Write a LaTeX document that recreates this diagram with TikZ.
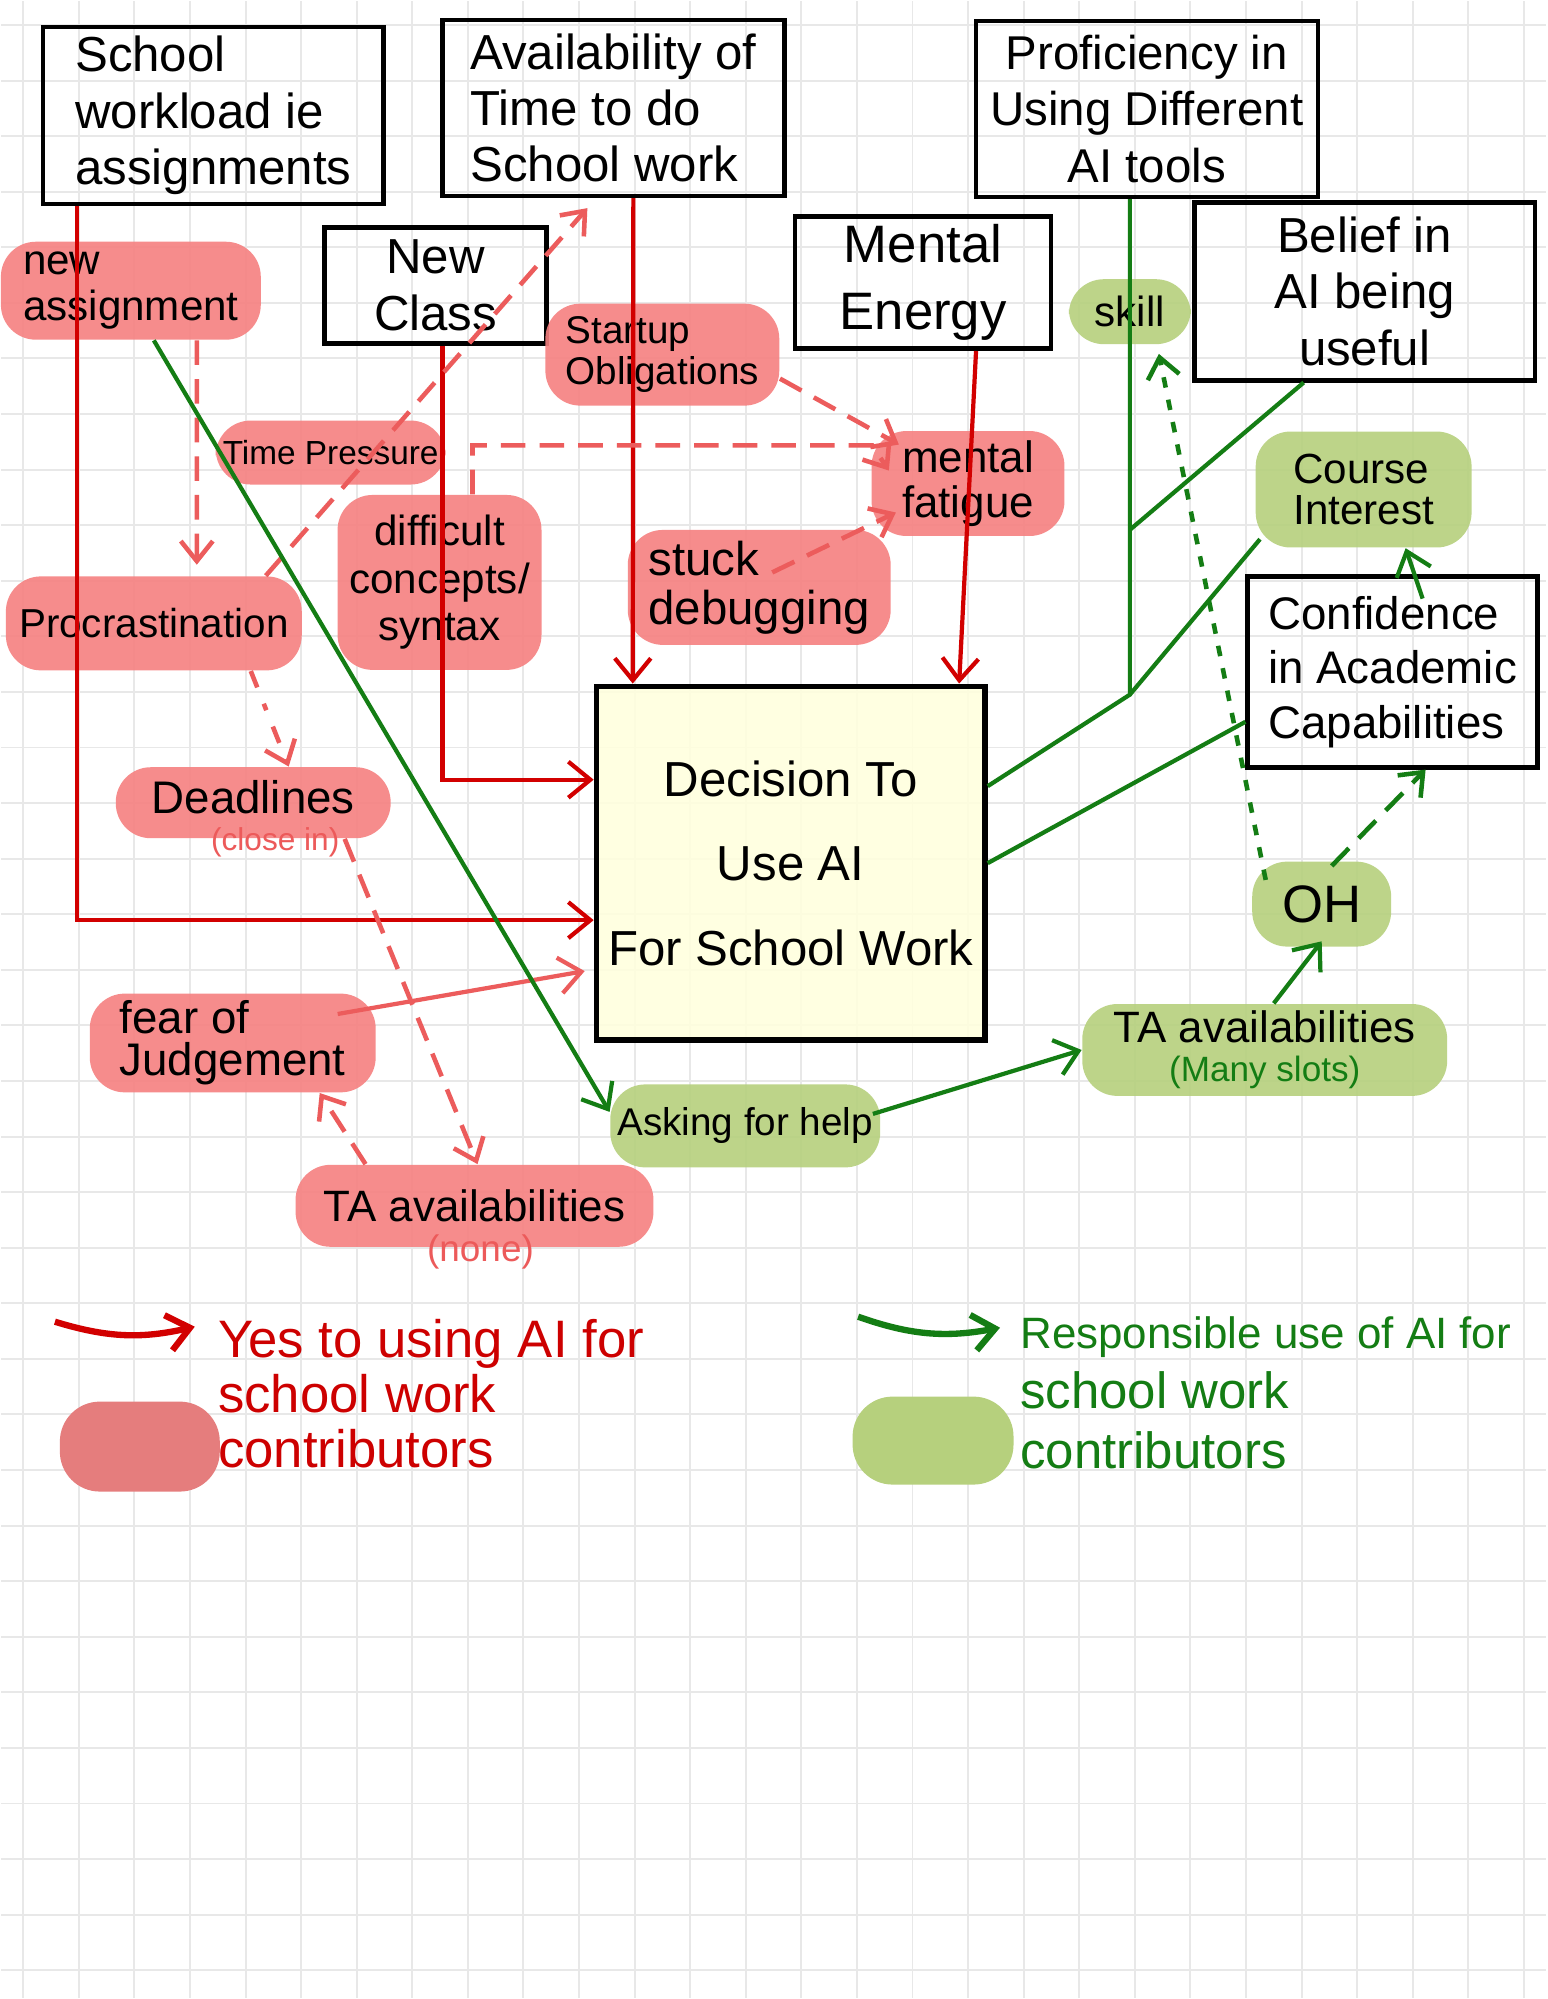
\documentclass[tikz,border=0pt]{standalone}
\usepackage{fontspec}
\setmainfont{Liberation Sans}
\usetikzlibrary{arrows.meta}
\definecolor{blobred}{RGB}{246,128,128}
\definecolor{blobgreen}{RGB}{182,208,125}
\definecolor{legendred}{RGB}{229,125,125}
\definecolor{linered}{RGB}{210,0,0}
\definecolor{dashred}{RGB}{236,92,92}
\definecolor{subred}{RGB}{236,90,90}
\definecolor{linegreen}{RGB}{20,125,20}
\definecolor{gridgrey}{RGB}{232,232,232}
\definecolor{decisionfill}{RGB}{255,255,222}
\definecolor{textred}{RGB}{205,0,0}

\begin{document}
\begin{tikzpicture}[x=0.01cm,y=-0.01cm]
			
			\tikzstyle{gridline} = [draw=gridgrey, line width=0.55pt]
			\tikzstyle{factor} = [rectangle, draw=black, line width=1.3pt, inner sep=2pt, align=center, font=\fontsize{14}{16}\selectfont]
			\tikzstyle{decisionbox} = [rectangle, draw=black, line width=1.5pt, fill=decisionfill, fill opacity=0.9, text opacity=1, align=center, font=\fontsize{14}{24}\selectfont]
			\tikzstyle{redblob} = [rectangle, rounded corners=0.35cm, fill=blobred, fill opacity=0.9, text opacity=1, inner sep=2pt, align=center, font=\fontsize{12}{13}\selectfont]
			\tikzstyle{greenblob} = [rectangle, rounded corners=0.35cm, fill=blobgreen, fill opacity=0.9, text opacity=1, inner sep=2pt, align=center, font=\fontsize{12}{13}\selectfont]
			\tikzstyle{redarrow} = [draw=linered, line width=1.2pt, -{Straight Barb[length=2.2mm,width=3.6mm]}]
			\tikzstyle{softarrow} = [draw=dashred, line width=1.2pt, -{Straight Barb[length=2.2mm,width=3.6mm]}]
			\tikzstyle{dasharrow} = [draw=dashred, line width=1.3pt, dash pattern=on 7pt off 4pt, -{Straight Barb[length=2mm,width=3.2mm]}]
			\tikzstyle{dotarrow} = [draw=dashred, line width=1.3pt, dash pattern=on 5pt off 5pt on 2pt off 5pt, -{Straight Barb[length=2mm,width=3.2mm]}]
			\tikzstyle{greenarrow} = [draw=linegreen, line width=1.2pt, -{Straight Barb[length=2.2mm,width=3.6mm]}]
			\tikzstyle{greenline} = [draw=linegreen, line width=1.2pt]
			\tikzstyle{greendash} = [draw=linegreen, line width=1.3pt, dash pattern=on 7pt off 4pt, -{Straight Barb[length=2mm,width=3.2mm]}]
			\tikzstyle{greendots} = [draw=linegreen, line width=1.3pt, dash pattern=on 3pt off 3.5pt, -{Straight Barb[length=2mm,width=3.2mm]}]
			
			\fill [white] (0,0) rectangle (1547,1999);
			\draw [gridline, shift={(22.3,24)}, step=0.556cm] (-22.3,1975) grid (1524.7,-24);
			\useasboundingbox (0,0) rectangle (1547,1999);
			
			\node (workload) [factor, align=left, minimum width=3.41cm, minimum height=1.77cm] at (212.5,114.5) {School\\ workload ie\\ assignments};
			\node (availability) [factor, align=left, minimum width=3.42cm, minimum height=1.76cm] at (613,107) {Availability of\\ Time to do\\ School work};
			\node (newclass) [factor, minimum width=2.22cm, minimum height=1.16cm] at (435,284.6) {New\\ Class};
			\node (proficiency) [factor, font=\fontsize{13.5}{16}\selectfont, minimum width=3.42cm, minimum height=1.76cm] at (1147,108) {Proficiency in\\ Using Different\\ AI tools};
			\node (energy) [factor, font=\fontsize{15}{19}\selectfont, minimum width=2.56cm, minimum height=1.32cm] at (923,282) {Mental\\ Energy};
			\node (belief) [factor, minimum width=3.41cm, minimum height=1.78cm] at (1365,290.6) {Belief in\\ AI being\\ useful};
			\node (confidence) [factor, align=left, font=\fontsize{13}{15.5}\selectfont, minimum width=2.90cm, minimum height=1.91cm] at (1393,671.5) {Confidence\\ in Academic\\ Capabilities};
			\node (decision) [decisionbox, minimum width=3.85cm, minimum height=3.54cm] at (790.5,863) {Decision To\\ Use AI\\ For School Work};
			
			\node (newassign) [redblob, align=left, minimum width=2.6cm, minimum height=0.98cm] at (130,290) {new\\ assignment};
			\node (timepressure) [redblob, font=\fontsize{9.5}{11}\selectfont, minimum width=2.27cm, minimum height=0.64cm] at (330,452) {Time Pressure};
			\node (startup) [redblob, align=left, font=\fontsize{11}{11.5}\selectfont, minimum width=2.34cm, minimum height=1.02cm] at (662,354) {Startup\\ Obligations};
			\node (difficult) [redblob, font=\fontsize{12}{13.5}\selectfont, minimum width=2.04cm, minimum height=1.75cm] at (439,582) {difficult\\ concepts/\\ syntax};
			\node (stuck) [redblob, align=left, font=\fontsize{13.5}{14}\selectfont, minimum width=2.63cm, minimum height=1.15cm] at (759,587) {stuck\\ debugging};
			\node (procrast) [redblob, font=\fontsize{11.5}{13}\selectfont, minimum width=2.96cm, minimum height=0.94cm] at (153,623) {Procrastination};
			\node (fatigue) [redblob, align=left, font=\fontsize{12.5}{12.8}\selectfont, minimum width=1.93cm, minimum height=1.05cm] at (968,483) {mental\\ fatigue};
			\node (deadlines) [redblob, font=\fontsize{13}{14}\selectfont, text depth=0.12cm, minimum width=2.75cm, minimum height=0.71cm, label={[subred, text opacity=1, font=\fontsize{9}{9}\selectfont, xshift=0.22cm, yshift=0.24cm]below:(close in)}] at (252.5,802.5) {Deadlines};
			\node (fear) [redblob, align=left, font=\fontsize{13}{12}\selectfont, minimum width=2.86cm, minimum height=0.94cm] at (232,1043) {fear of\\ Judgement};
			\node (tanone) [redblob, font=\fontsize{12.5}{14}\selectfont, minimum width=3.58cm, minimum height=0.82cm, label={[subred, text opacity=1, font=\fontsize{10.5}{10.5}\selectfont, xshift=0.06cm, yshift=0.25cm]below:(none)}] at (474,1206) {TA availabilities};
			
			\node (skill) [greenblob, minimum width=1.22cm, minimum height=0.65cm] at (1130,311) {skill};
			\node (course) [greenblob, align=left, font=\fontsize{12}{11.5}\selectfont, minimum width=2.16cm, minimum height=1.16cm] at (1364,489) {Course\\ Interest};
			\node (oh) [greenblob, font=\fontsize{15}{16}\selectfont, minimum width=1.39cm, minimum height=0.85cm] at (1322,904) {OH};
			\node (tamany) [greenblob, font=\fontsize{12.5}{11}\selectfont, minimum width=3.65cm, minimum height=0.9cm] at (1265,1050) {TA availabilities\\ {\color{linegreen}\fontsize{10}{10}\selectfont (Many slots)}};
			\node (asking) [greenblob, font=\fontsize{11}{12}\selectfont, minimum width=2.7cm, minimum height=0.83cm] at (745,1126) {Asking for help};
			
			\draw [redarrow] ([xshift=-1.36cm]workload.south) |- ([yshift=-0.57cm]decision.west);
			\draw [redarrow] ([xshift=0.07cm]newclass.south) |- ([yshift=0.835cm]decision.west);
			\draw [redarrow] ([xshift=0.2cm]availability.south) -- ([xshift=-1.58cm]decision.north);
			\draw [redarrow] ([xshift=0.53cm]energy.south) -- ([xshift=1.685cm]decision.north);
			
			\draw [dasharrow] ([xshift=0.66cm]newassign.south) -- ([xshift=0.43cm,yshift=0.11cm]procrast.north);
			\draw [dasharrow] ([xshift=1.12cm]procrast.north) -- ([xshift=-0.26cm,yshift=-0.1cm]availability.south);
			\draw [dotarrow] ([xshift=0.97cm]procrast.south) -- ([xshift=0.355cm]deadlines.north);
			\draw [dasharrow] ([yshift=-0.24cm]startup.east) -- ([xshift=0.28cm,yshift=0.39cm]fatigue.west);
			\draw [dasharrow] ([xshift=0.33cm]difficult.north) -- ++(0,-49) -- ++(400,0) -- ([xshift=0.18cm,yshift=0.13cm]fatigue.west);
			\draw [dasharrow] ([xshift=0.13cm,yshift=0.15cm]stuck.center) -- ([xshift=0.25cm,yshift=-0.29cm]fatigue.west);
			\draw [dasharrow] ([xshift=0.915cm]deadlines.south) -- ([xshift=0.03cm]tanone.north);
			\draw [dasharrow] ([xshift=-1.09cm]tanone.north) -- ([xshift=0.87cm]fear.south);
			\draw [softarrow] ([xshift=1.05cm,yshift=0.29cm]fear.center) -- ([xshift=-0.09cm,yshift=-1.08cm]decision.west);
			
			\draw [greenarrow] ([xshift=0.23cm]newassign.south) -- ([yshift=0.14cm]asking.west);
			\draw [greenarrow] ([xshift=-0.08cm,yshift=0.12cm]asking.east) -- (tamany.west);
			\draw [greenarrow] ([xshift=0.09cm]tamany.north) -- ([yshift=0.06cm]oh.south);
			\draw [greendots] ([xshift=-0.56cm,yshift=-0.19cm]oh.north) -- ([xshift=0.29cm,yshift=-0.09cm]skill.south);
			\draw [greendash] ([xshift=0.1cm,yshift=-0.05cm]oh.north) -- ([xshift=0.33cm]confidence.south);
			\draw [greenarrow] ([xshift=0.3cm,yshift=-0.245cm]confidence.north) -- ([xshift=0.42cm]course.south);
			
			\path ([xshift=-0.17cm]proficiency.south) ++(0,331) coordinate (beliefjoin) ++(0,165) coordinate (fork);
			\draw [greenline] ([xshift=-0.17cm]proficiency.south) -- (fork) -- ([yshift=0.77cm]decision.east);
			\draw [greenline] ([xshift=-0.61cm]belief.south) -- (beliefjoin);
			\draw [greenline] ([xshift=0.05cm,yshift=0.09cm]course.south west) -- (fork);
			\draw [greenline] ([yshift=-0.5cm]confidence.west) -- (decision.east);
			
			\coordinate (yestail) at (54,1322);
			\coordinate (yeshead) at (194,1327);
			\draw [redarrow, line width=1.8pt] (yestail) to[bend right=15] (yeshead);
			\node (yestext) [anchor=west, align=left, text=textred, font=\fontsize{15}{15.6}\selectfont] at (205,1394) {Yes to using AI for\\ school work\\ contributors};
			\node (yesblob) [rectangle, rounded corners=0.4cm, fill=legendred, minimum width=1.6cm, minimum height=0.9cm] at (139,1447) {};
			
			\coordinate (resptail) at (858,1317);
			\coordinate (resphead) at (1000,1328);
			\draw [greenarrow, line width=1.8pt] (resptail) to[bend right=15] (resphead);
			\node (resptext) [anchor=west, align=left, text=linegreen, font=\fontsize{14.5}{17}\selectfont] at (1008,1393) {{\fontsize{12.5}{17}\selectfont Responsible use of AI for}\\ school work\\ contributors};
			\node (respblob) [rectangle, rounded corners=0.4cm, fill=blobgreen, minimum width=1.61cm, minimum height=0.88cm] at (933,1441) {};
			
\end{tikzpicture}
\end{document}
